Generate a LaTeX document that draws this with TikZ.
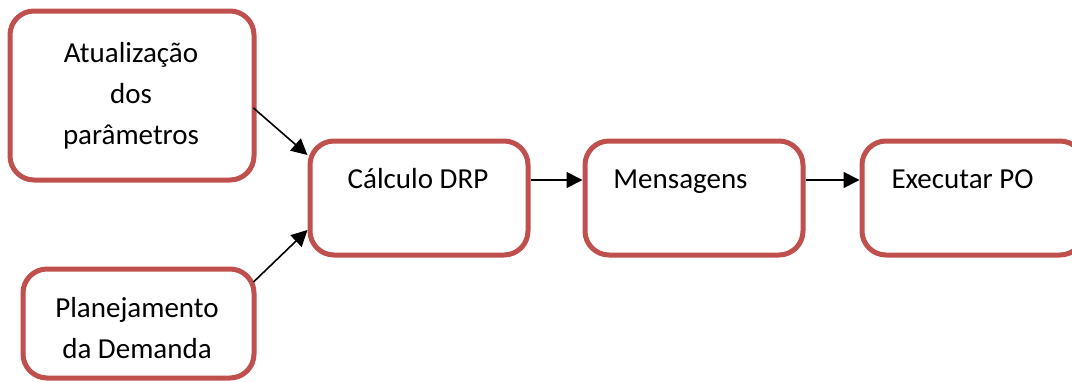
\documentclass[tikz,border=0pt]{standalone}
\usepackage{fontspec}
\setmainfont{Carlito}
\usetikzlibrary{arrows.meta}
\definecolor{boxred}{HTML}{C0504D}
\tikzset{
  procbox/.style={draw=boxred, line width=5pt, rounded corners=24pt, fill=white},
  boxtext/.style={font=\fontsize{29}{41}\selectfont, align=center, inner sep=0pt},
  flow/.style={line width=1.6pt, -{Triangle[length=16pt,width=16pt]}}
}
\begin{document}
\begin{tikzpicture}[x=1pt,y=-1pt]
\useasboundingbox (0,0) rectangle (1072,381);
\begin{scope}
\clip (0,0) rectangle (1072,381);
% process boxes
\node[procbox, minimum width=244pt, minimum height=169pt] (upd) at (132,95.5) {};
\node[procbox, minimum width=231pt, minimum height=109pt] (dem) at (138.5,323.5) {};
\node[procbox, minimum width=218pt, minimum height=114pt] (drp) at (419,198) {};
\node[procbox, minimum width=218pt, minimum height=114pt] (msg) at (694,198) {};
\node[procbox, minimum width=222pt, minimum height=114pt] (po) at (973,198) {};
% labels
\node[boxtext] (updtxt) at (131,96) {Atualização\\dos\\parâmetros};
\node[boxtext] (demtxt) at (137,328) {Planejamento\\da Demanda};
\node[boxtext, anchor=base] (drptxt) at (418,188) {Cálculo DRP};
\node[boxtext, anchor=base] (msgtxt) at (680.5,188) {Mensagens};
\node[boxtext, anchor=base] (potxt) at (962.5,188) {Executar PO};
% connectors
\draw[flow] ([yshift=-12.5pt,xshift=-3pt]upd.east) -- ([yshift=43pt]drp.west);
\draw[flow] ([yshift=41.5pt,xshift=-3pt]dem.east) -- ([yshift=-32pt]drp.west);
\draw[flow] ([yshift=18pt]drp.east) -- ([yshift=18pt]msg.west);
\draw[flow] ([yshift=18pt]msg.east) -- ([yshift=18pt]po.west);
\end{scope}
\end{tikzpicture}
\end{document}
